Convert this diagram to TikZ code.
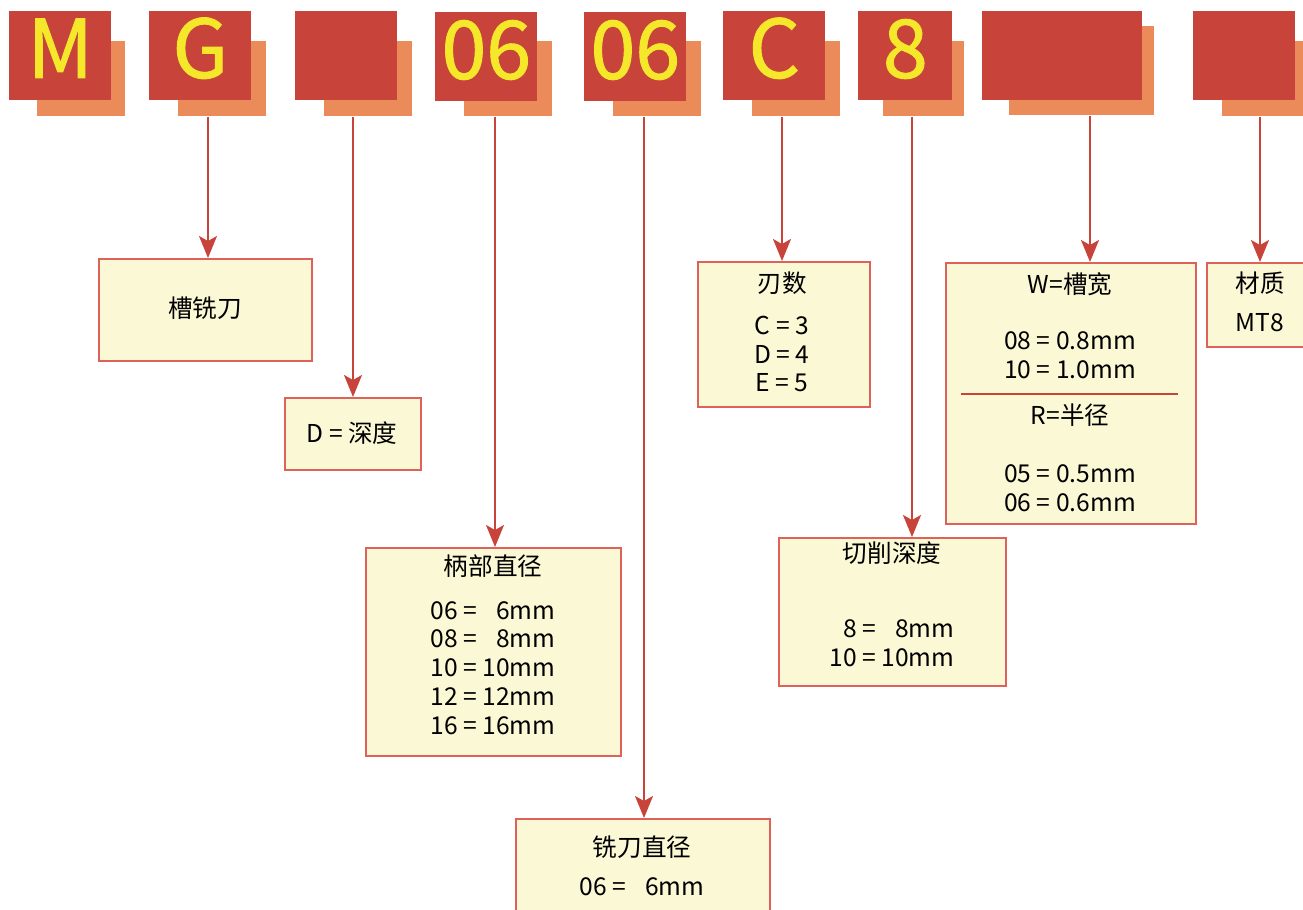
\documentclass[tikz,border=0pt]{standalone}
\usepackage{fontspec}
\setmainfont{Noto Sans CJK SC}
\newfontfamily\tilefont[FakeBold=1.2]{Noto Sans CJK SC}
\usetikzlibrary{arrows.meta}
\definecolor{tilered}{HTML}{C8443B}
\definecolor{tileorange}{HTML}{EC8B5A}
\definecolor{letteryellow}{HTML}{F5E82A}
\definecolor{boxfill}{HTML}{FBF8D5}
\definecolor{boxline}{HTML}{DE625A}

\begin{document}
\begin{tikzpicture}[x=0.02cm,y=-0.02cm,
    tile/.style={fill=tilered,anchor=north west,inner sep=0pt,minimum width=2.04cm,minimum height=1.78cm,
        text=letteryellow,font=\tilefont\fontsize{46}{50}\selectfont,text height=1.1cm,text depth=0.22cm},
    shade/.style={fill=tileorange,anchor=north west,inner sep=0pt,minimum width=1.76cm,minimum height=1.5cm},
    infobox/.style={draw=boxline,line width=1pt,fill=boxfill,anchor=north west,inner sep=0pt},
    txt/.style={align=center,inner sep=0pt,font=\fontsize{14}{16.44}\selectfont},
    arr/.style={draw=tilered,line width=1.1pt,-{Stealth[length=0.44cm,width=0.36cm,inset=0.1cm]}}]
    \useasboundingbox (0,0) rectangle (1303,910);
    % code tiles
    \node[shade] (sM) at (37,41) {};
    \node[tile] (tM) at (9,11) {M};
    \node[shade] (sG) at (178,41) {};
    \node[tile] (tG) at (149,11) {G};
    \node[shade] (sD) at (324,41) {};
    \node[tile] (tD) at (295,11) {};
    \node[shade] (sShank) at (464,41) {};
    \node[tile] (tShank) at (435,12) {06};
    \node[shade] (sDiam) at (613,41) {};
    \node[tile] (tDiam) at (584,12) {06};
    \node[shade] (sFlute) at (752,41) {};
    \node[tile] (tFlute) at (723,11) {C};
    \node[shade,minimum width=1.62cm] (sCut) at (883,41) {};
    \node[tile,minimum width=1.88cm] (tCut) at (858,11) {8};
    \node[shade,minimum width=2.9cm,minimum height=1.78cm] (sWidth) at (1009,26) {};
    \node[tile,minimum width=3.2cm] (tWidth) at (982,11) {};
    \node[shade] (sMat) at (1222,41) {};
    \node[tile] (tMat) at (1193,11) {};
    % boxes
    \node[infobox,minimum width=4.26cm,minimum height=2.04cm] (slot) at (98,258) {};
    \node[txt] (slotT) at (205,308) {槽铣刀};
    \node[infobox,minimum width=2.72cm,minimum height=1.44cm] (depth) at (284,397) {};
    \node[txt] (depthT) at (352,433) {D = 深度};
    \node[infobox,minimum width=5.1cm,minimum height=4.16cm] (shank) at (365,547) {};
    \node[txt] (shankT) at (493,566) {柄部直径};
    \node[txt] (shankV) at (493,668) {06 = \phantom{1}6mm\\08 = \phantom{1}8mm\\10 = 10mm\\12 = 12mm\\16 = 16mm};
    \node[infobox,minimum width=5.08cm,minimum height=2.8cm] (diam) at (515,818) {};
    \node[txt] (diamT) at (642,847) {铣刀直径};
    \node[txt] (diamV) at (642,887) {06 = \phantom{1}6mm};
    \node[infobox,minimum width=3.44cm,minimum height=2.9cm] (flute) at (697,261) {};
    \node[txt] (fluteT) at (782,283) {刃数};
    \node[txt] (fluteV) at (782,354) {C = 3\\D = 4\\E = 5};
    \node[infobox,minimum width=5cm,minimum height=5.22cm] (width) at (945,262) {};
    \node[txt] (widthT) at (1070,284) {W=槽宽};
    \node[txt] (widthV) at (1070,355.5) {08 = 0.8mm\\10 = 1.0mm};
    \node[txt] (radT) at (1070,415) {R=半径};
    \node[txt] (radV) at (1070,488.5) {05 = 0.5mm\\06 = 0.6mm};
    \draw[tilered,line width=1.6pt] (961,394) -- (1178,394);
    \node[infobox,minimum width=2.4cm,minimum height=1.68cm] (mat) at (1206,262) {};
    \node[txt] (matT) at (1260,283) {材质};
    \node[txt] (matV) at (1260,323) {MT8};
    \node[infobox,minimum width=4.54cm,minimum height=2.96cm] (cut) at (778,537) {};
    \node[txt] (cutT) at (892,553) {切削深度};
    \node[txt] (cutV) at (892,643.5) {\phantom{1}8 = \phantom{1}8mm\\10 = 10mm};
    % arrows
    \draw[arr] (sG.south -| 208,0) -- (slot.north -| 208,0);
    \draw[arr] (sD.south -| 353,0) -- (depth.north -| 353,0);
    \draw[arr] (sShank.south -| 495,0) -- (shank.north -| 495,0);
    \draw[arr] (sDiam.south -| 644,0) -- (diam.north -| 644,0);
    \draw[arr] (sFlute.south -| 782,0) -- (flute.north -| 782,0);
    \draw[arr] (sCut.south -| 912,0) -- (cut.north -| 912,0);
    \draw[arr] (sWidth.south -| 1090,0) -- (width.north -| 1090,0);
    \draw[arr] (sMat.south -| 1260,0) -- (mat.north -| 1260,0);
\end{tikzpicture}
\end{document}
